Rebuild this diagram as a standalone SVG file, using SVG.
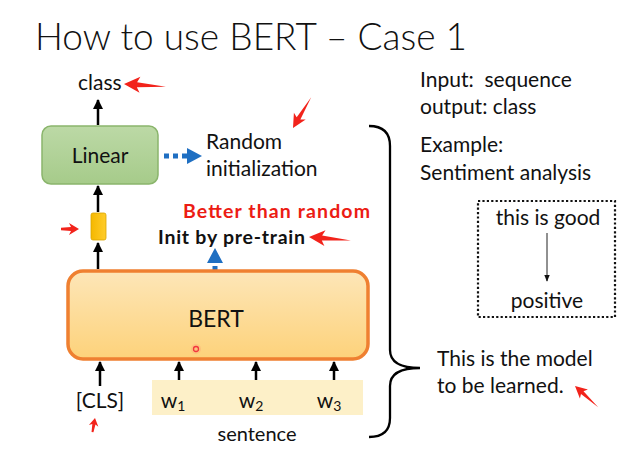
<svg xmlns="http://www.w3.org/2000/svg" width="644" height="462" viewBox="0 0 644 462">
<style>
text{font-family:Lato,"Open Sans","Liberation Sans",sans-serif;fill:#111}
.t21{font-size:21px}
.t20{font-size:20px}
.red{fill:#f2231b}
.blk{stroke:#000;stroke-width:2.5;fill:none}
.dotb{stroke:#1f6fc2;stroke-width:5;stroke-dasharray:5 4;fill:none}
</style>
<defs>
<linearGradient id="gG" x1="0" y1="0" x2="0" y2="1"><stop offset="0" stop-color="#bcd9a6"/><stop offset="1" stop-color="#a6cb8a"/></linearGradient>
<linearGradient id="gO" x1="0" y1="0" x2="0" y2="1"><stop offset="0" stop-color="#fde6b8"/><stop offset="1" stop-color="#fdd27a"/></linearGradient>
<linearGradient id="gY" x1="0" y1="0" x2="1" y2="0"><stop offset="0" stop-color="#f5b800"/><stop offset="1" stop-color="#ffcc2a"/></linearGradient>
<marker id="ah" viewBox="0 0 10 10" refX="9" refY="5" markerWidth="4" markerHeight="4" orient="auto"><path d="M0 0L10 5L0 10z" fill="#000"/></marker>
<marker id="ah2" viewBox="0 0 10 10" refX="9" refY="5" markerWidth="7" markerHeight="7" orient="auto"><path d="M0 1L10 5L0 9z" fill="#111"/></marker>
<path id="ra" d="M0 0L16 -8L13 -2.5L42 0.5L13 2.5L16 8z"/>
<path id="rb" d="M0 0L10 -6L8 -2L18 -1.2L18 1.2L8 2L10 6z"/>
</defs>
<text x="35" y="50" font-size="37" font-weight="300" textLength="432">How to use BERT – Case 1</text>

<g id="connectors">
<line class="blk" x1="98" y1="125" x2="98" y2="100" marker-end="url(#ah)"/>
<line class="blk" x1="98" y1="212" x2="98" y2="186" marker-end="url(#ah)"/>
<line class="blk" x1="98" y1="269" x2="98" y2="243" marker-end="url(#ah)"/>
<line class="blk" x1="100" y1="386" x2="100" y2="362" marker-end="url(#ah)"/>
<line class="blk" x1="179" y1="383" x2="179" y2="362" marker-end="url(#ah)"/>
<line class="blk" x1="256" y1="383" x2="256" y2="362" marker-end="url(#ah)"/>
<line class="blk" x1="334" y1="383" x2="334" y2="362" marker-end="url(#ah)"/>
<line class="dotb" x1="164" y1="156" x2="188" y2="156"/>
<path d="M187 148L202 156L187 164z" fill="#1f6fc2"/>
<line class="dotb" x1="215" y1="298" x2="215" y2="262"/>
<path d="M207 263L215 248L223 263z" fill="#1f6fc2"/>
<line x1="547" y1="233" x2="547" y2="281" stroke="#222" stroke-width="1" marker-end="url(#ah2)"/>
</g>

<g id="class"><text class="t21" x="78" y="90">class</text></g>

<g id="linear">
<rect x="42" y="126" width="116" height="58" rx="9" fill="url(#gG)" stroke="#8ab56c" stroke-width="1.5"/>
<text class="t21" x="100" y="163" text-anchor="middle">Linear</text>
</g>

<g id="random"><text class="t21" x="206" y="149">Random</text><text class="t21" x="206" y="176">initialization</text></g>

<g id="cls-vec"><rect x="91" y="213" width="15" height="27" rx="2" fill="url(#gY)" stroke="#d9a400" stroke-width="0.8"/></g>

<g id="pretrain">
<text x="183" y="218" font-size="19.5" font-weight="bold" style="fill:#ec1c14" textLength="187">Better than random</text>
<text x="158" y="244" font-size="19.5" font-weight="bold" textLength="147">Init by pre-train</text>
</g>

<g id="bert">
<rect x="68" y="271" width="300" height="88" rx="15" fill="url(#gO)" stroke="#ef8031" stroke-width="3.5"/>
<text x="216" y="327" font-size="23" text-anchor="middle">BERT</text>
<circle cx="196" cy="349" r="2.5" fill="none" stroke="#f0303a" stroke-width="1.3"/>
<circle cx="196" cy="349" r="5" fill="#ff6060" opacity="0.15"/>
</g>

<g id="sentence">
<rect x="152" y="380" width="211" height="35" fill="#fdf0c8"/>
<text class="t21" x="100" y="408" text-anchor="middle">[CLS]</text>
<text class="t21" x="173" y="408" text-anchor="middle">w<tspan font-size="14" dy="3">1</tspan></text>
<text class="t21" x="251" y="408" text-anchor="middle">w<tspan font-size="14" dy="3">2</tspan></text>
<text class="t21" x="329" y="408" text-anchor="middle">w<tspan font-size="14" dy="3">3</tspan></text>
<text class="t20" x="257" y="441" text-anchor="middle">sentence</text>
</g>

<g id="brace"><path d="M369 126Q390 126 390 146L390 350Q390 368 420 368Q390 368 390 386L390 418Q390 437 369 437" fill="none" stroke="#000" stroke-width="2.3"/></g>

<g id="info">
<text class="t21" x="420" y="87" xml:space="preserve">Input:  sequence</text>
<text class="t21" x="420" y="114">output: class</text>
<text class="t21" x="420" y="152">Example:</text>
<text class="t21" x="420" y="180">Sentiment analysis</text>
</g>

<g id="example">
<rect x="478" y="201" width="137" height="116" fill="none" stroke="#111" stroke-width="2.2" stroke-dasharray="2.2 2.2"/>
<text class="t21" x="548" y="225" text-anchor="middle">this is good</text>
<text class="t21" x="547" y="308" text-anchor="middle">positive</text>
</g>

<g id="model"><text class="t21" x="437" y="366">This is the model</text><text class="t21" x="437" y="393">to be learned.</text></g>

<g id="red-arrows" class="red">
<use href="#ra" transform="translate(124,84) rotate(3)"/>
<use href="#ra" transform="translate(293,128) rotate(-60) scale(0.85)"/>
<use href="#ra" transform="translate(309,237) rotate(4)" />
<use href="#rb" transform="translate(79,229) rotate(180)"/>
<use href="#rb" transform="translate(95,418) rotate(100) scale(0.8)"/>
<use href="#ra" transform="translate(575,386) rotate(42) scale(0.75)"/>
</g>
</svg>
